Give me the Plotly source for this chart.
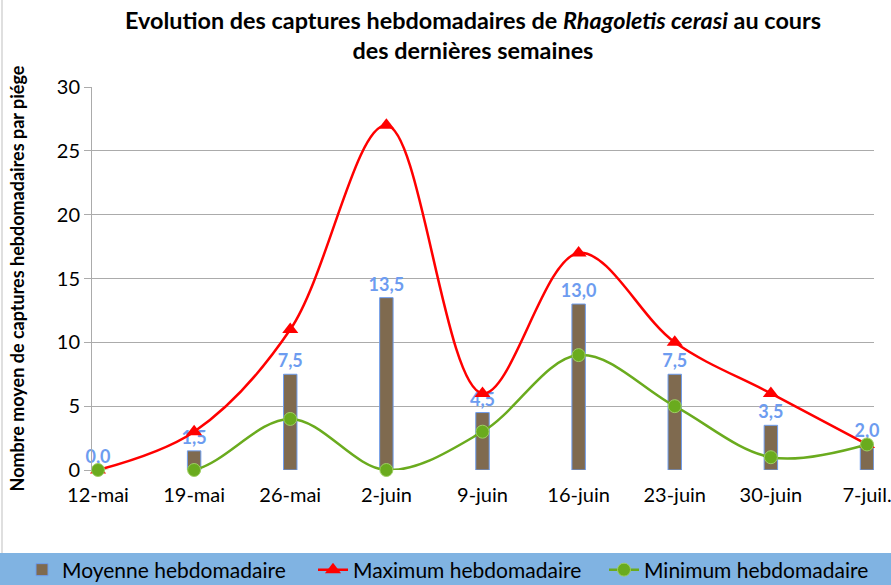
import plotly.graph_objects as go

categories = ["12-mai", "19-mai", "26-mai", "2-juin", "9-juin", "16-juin", "23-juin", "30-juin", "7-juil."]
moyenne = [0.0, 1.5, 7.5, 13.5, 4.5, 13.0, 7.5, 3.5, 2.0]
maximum = [0, 3, 11, 27, 6, 17, 10, 6, 2]
minimum = [0, 0, 4, 0, 3, 9, 5, 1, 2]
y_ticks = [0, 5, 10, 15, 20, 25, 30]

FONT = "Lato"
xs = list(range(len(categories)))

fig = go.Figure()
fig.add_trace(go.Bar(
    x=xs, y=moyenne, name="Moyenne hebdomadaire", width=0.14,
    marker=dict(color="#7F6A4F", line=dict(color="#6E9DEE", width=1)),
    texttemplate="%{y:.1f}", textposition="outside", constraintext="none",
    textfont=dict(family=FONT, size=18, color="#6D9CF0", weight="bold"),
    cliponaxis=False,
))
fig.add_trace(go.Scatter(
    x=xs, y=maximum, name="Maximum hebdomadaire", mode="lines+markers",
    line=dict(color="#FF0000", width=2.5, shape="spline", smoothing=1.0),
    marker=dict(symbol="triangle-up", size=14, color="#FF0000"),
    cliponaxis=False,
))
fig.add_trace(go.Scatter(
    x=xs, y=minimum, name="Minimum hebdomadaire", mode="lines+markers",
    line=dict(color="#6AAB1E", width=2.5, shape="spline", smoothing=1.0),
    marker=dict(symbol="circle", size=13, color="#6AAB1E", line=dict(color="#9ECF63", width=1)),
    cliponaxis=False,
))

L, R, T, B = 92, 17, 87, 115
W, H = 891, 585
ph = H - T - B
pw = W - L - R

shapes = [
    dict(type="rect", xref="paper", yref="paper",
         x0=-L / pw, x1=(W - L) / pw, y0=-(553 - (H - B)) / ph, y1=-(H - (H - B)) / ph,
         fillcolor="#80B3E2", line=dict(width=0), layer="below"),
    dict(type="line", xref="paper", yref="paper",
         x0=(2 - L) / pw, x1=(2 - L) / pw, y0=-(553 - (H - B)) / ph, y1=(H - B) / ph,
         line=dict(color="#BFBFBF", width=1)),
]

fig.update_layout(
    width=W, height=H, margin=dict(l=L, r=R, t=T, b=B, autoexpand=False),
    paper_bgcolor="white", plot_bgcolor="white",
    separators=", ",
    font=dict(family=FONT, color="#000000"),
    title=dict(
        text="Evolution des captures hebdomadaires de <i>Rhagoletis cerasi</i> au cours<br>des dernières semaines",
        font=dict(family=FONT, size=23.4, color="#000000", weight="bold"),
        x=473 / W, xref="container", xanchor="center",
        y=1 - 29 / H, yref="container", yanchor="top",
    ),
    xaxis=dict(
        tickmode="array", tickvals=xs, ticktext=categories,
        range=[-6 / 96.1, 8 + 7 / 96.1],
        showgrid=False, zeroline=False, showline=False, ticks="",
        tickfont=dict(family=FONT, size=20, color="#000000"),
        ticklabelstandoff=11, ticklabeloverflow="allow",
    ),
    yaxis=dict(
        range=[0, 30], tickvals=y_ticks,
        showgrid=True, gridcolor="#ABABAB", gridwidth=1,
        zeroline=False, showline=True, linecolor="#ABABAB", linewidth=1,
        ticks="outside", ticklen=7, tickcolor="#ABABAB",
        tickfont=dict(family=FONT, size=20, color="#000000"),
        title=dict(text="Nombre moyen de captures hebdomadaires par piége",
                   font=dict(family=FONT, size=18, color="#000000", weight="bold"),
                   standoff=27),
    ),
    legend=dict(
        orientation="h", x=(22 - L) / pw, xanchor="left",
        y=-(570 - (H - B)) / ph, yanchor="middle",
        bgcolor="rgba(0,0,0,0)", font=dict(family=FONT, size=21, color="#000000"),
        entrywidth=246, traceorder="normal",
    ),
    shapes=shapes,
    showlegend=True,
)

fig.write_html("out.html", config={"displayModeBar": False},
               post_script="document.body.style.margin='0';document.body.style.overflow='hidden';")
